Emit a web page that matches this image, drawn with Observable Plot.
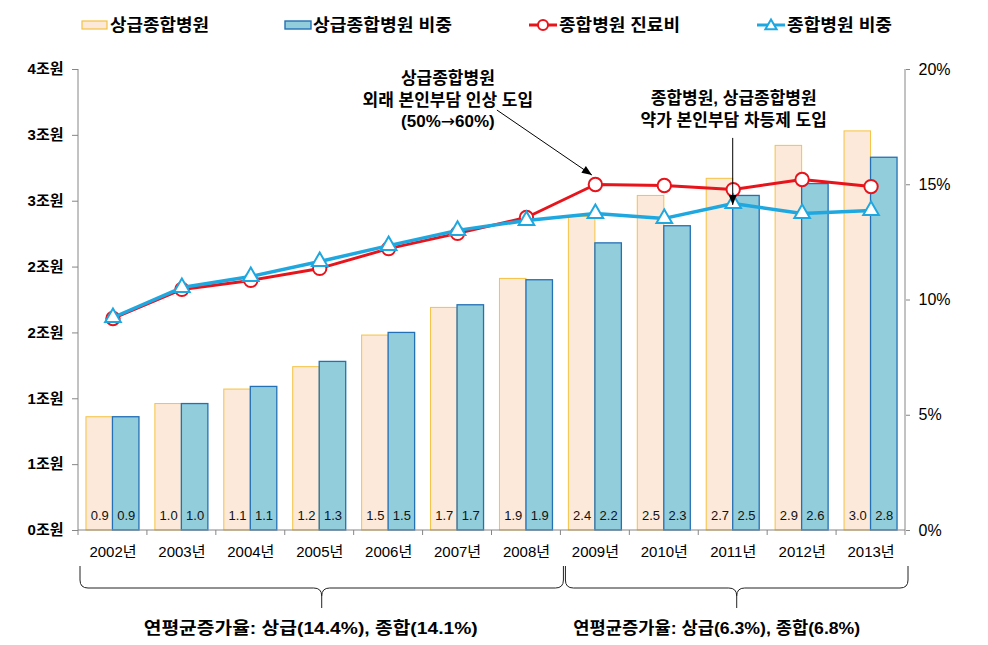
<!DOCTYPE html>
<html><head><meta charset="utf-8">
<script src="https://cdn.jsdelivr.net/npm/d3@7"></script>
<script src="https://cdn.jsdelivr.net/npm/@observablehq/plot@0.6"></script>
<style>
body{margin:0;background:#fff;}
#chart svg{display:block;}
</style></head><body>
<div id="chart"></div>
<script>
// ---------- data ----------
const years = ["2002년","2003년","2004년","2005년","2006년","2007년","2008년","2009년","2010년","2011년","2012년","2013년"];
const sangupCost  = [0.86,0.96,1.07,1.24,1.48,1.69,1.91,2.38,2.54,2.67,2.92,3.03];   // 조원 (orange bars)
const jonghapCost = [0.86,0.96,1.09,1.28,1.50,1.71,1.90,2.18,2.31,2.54,2.63,2.83];   // 조원 (blue bars)
const redShare    = [9.20,10.46,10.85,11.37,12.23,12.89,13.58,15.01,14.97,14.79,15.23,14.92]; // % (red line)
const cyanShare   = [9.24,10.54,11.02,11.67,12.36,13.02,13.45,13.75,13.54,14.19,13.75,13.88]; // % (cyan line)
const seriesNames = ["상급종합병원","상급종합병원 비중","종합병원 진료비","종합병원 비중"];
const leftTickValues  = [0,0.5,1,1.5,2,2.5,3,3.5];
const leftTickLabels  = ["0조원","1조원","1조원","2조원","2조원","3조원","3조원","4조원"];
const rightTickValues = [0,5,10,15,20];
const rightTickLabels = ["0%","5%","10%","15%","20%"];
const annotation1 = ["상급종합병원","외래 본인부담 인상 도입","(50%→60%)"];
const annotation2 = ["종합병원, 상급종합병원","약가 본인부담 차등제 도입"];
const growthLabels = ["연평균증가율: 상급(14.4%), 종합(14.1%)","연평균증가율: 상급(6.3%), 종합(6.8%)"];
const periodSplit = 7; // first period covers years[0..6]

// ---------- setup ----------
const FONT = '"Liberation Sans",Arial,"Noto Sans CJK KR",sans-serif';
const ARROWFONT = '"DejaVu Sans",sans-serif';
const RED = "#e8141c", CYAN = "#1fa8e0";
const OR_FILL = "#fde9d9", OR_STROKE = "#f5c242", BL_FILL = "#92cddc", BL_STROKE = "#2470b5";
const YMAX = leftTickValues[leftTickValues.length-1];
const K = YMAX / rightTickValues[rightTickValues.length-1]; // % -> left units
const W = 988, H = 600, mL = 78, mR = 83, mT = 24, mB = 115;
const bwEst = (W - mL - mR) / years.length;
const barW = 26.5;

const rows = years.map((y,i)=>({year:y, a:sangupCost[i], b:jonghapCost[i], red:redShare[i]*K, cyan:cyanShare[i]*K}));
const chart = document.getElementById("chart");

// ---------- legend ----------
const L = d3.select(chart).append("svg").attr("width", W).attr("height", 45)
  .style("font-family", FONT);
function legendText(x, txt, len){
  L.append("text").attr("x", x).attr("y", 25).attr("dy","0.36em")
   .attr("font-size", 17).attr("font-weight","bold").attr("fill","#000")
   .attr("textLength", len).attr("lengthAdjust","spacingAndGlyphs").text(txt);
}
L.append("rect").attr("x",82).attr("y",21).attr("width",25).attr("height",8).attr("fill",OR_FILL).attr("stroke",OR_STROKE).attr("stroke-width",1.2);
legendText(110, seriesNames[0], 99);
L.append("rect").attr("x",285).attr("y",21).attr("width",26).attr("height",8).attr("fill",BL_FILL).attr("stroke",BL_STROKE).attr("stroke-width",1.4);
legendText(313, seriesNames[1], 139);
L.append("line").attr("x1",529).attr("x2",557).attr("y1",25).attr("y2",25).attr("stroke",RED).attr("stroke-width",3);
L.append("circle").attr("cx",543).attr("cy",25).attr("r",5).attr("fill","#fff").attr("stroke",RED).attr("stroke-width",2);
legendText(559, seriesNames[2], 121);
L.append("line").attr("x1",757).attr("x2",785).attr("y1",25).attr("y2",25).attr("stroke",CYAN).attr("stroke-width",3);
L.append("path").attr("transform","translate(771,26)").attr("d", d3.symbol(d3.symbolTriangle, 55)()).attr("fill","#fff").attr("stroke",CYAN).attr("stroke-width",2);
legendText(787, seriesNames[3], 105);

// ---------- plot ----------
const plot = Plot.plot({
  width: W, height: H, marginLeft: mL, marginRight: mR, marginTop: mT, marginBottom: mB,
  style: {fontFamily: FONT, background: "white", overflow: "visible", color: "#000"},
  x: {domain: years, paddingInner: 0, paddingOuter: 0, round: false, axis: null},
  y: {domain: [0, YMAX], axis: null},
  marks: [
    Plot.barY(rows, {x:"year", y:"a", fill:OR_FILL, stroke:OR_STROKE, strokeWidth:1, insetLeft: bwEst/2 - barW, insetRight: bwEst/2}),
    Plot.barY(rows, {x:"year", y:"b", fill:BL_FILL, stroke:BL_STROKE, strokeWidth:1.3, insetLeft: bwEst/2, insetRight: bwEst/2 - barW}),
    Plot.text(rows, {x:"year", y:0, text: d=>d.a.toFixed(1), dx:-barW/2, dy:-15, fontSize:13, fill:"#111"}),
    Plot.text(rows, {x:"year", y:0, text: d=>d.b.toFixed(1), dx: barW/2, dy:-15, fontSize:13, fill:"#111"}),
    Plot.axisY({anchor:"left", ticks:leftTickValues, tickFormat: d=>leftTickLabels[leftTickValues.indexOf(d)],
      tickSize:6, tickPadding:9, fontSize:15, fontWeight:"bold", label:null, stroke:"#868686", fill:"#000"}),
    Plot.axisY({anchor:"right", ticks:rightTickValues.map(v=>v*K), tickFormat: d=>rightTickLabels[Math.round(d/K/5)],
      tickSize:4, tickPadding:9, fontSize:16, label:null, stroke:"#868686", fill:"#000"}),
    Plot.axisX({tickSize:0, tickPadding:16, fontSize:15, label:null, fill:"#000"}),
    Plot.line(rows, {x:"year", y:"red", stroke:RED, strokeWidth:3}),
    Plot.dot(rows, {x:"year", y:"red", r:6.7, fill:"white", stroke:RED, strokeWidth:2}),
    Plot.line(rows, {x:"year", y:"cyan", stroke:CYAN, strokeWidth:3.5}),
    Plot.dot(rows, {x:"year", y:"cyan", symbol:"triangle", r:5.8, fill:"white", stroke:CYAN, strokeWidth:2})
  ]
});
chart.appendChild(plot);

// ---------- decorations from the plot's scales ----------
const sx = plot.scale("x"), sy = plot.scale("y");
const X = v => sx.apply(v);
const bw = X(years[1]) - X(years[0]);
const CX = v => X(v) + bw/2;
const Y = v => sy.apply(v);
const svg = d3.select(plot);
const g = svg.append("g").attr("fill","none");
const x0 = X(years[0]), xN = X(years[years.length-1]) + bw, y0 = Y(0), yT = Y(YMAX);
const AX = "#868686";
g.append("line").attr("x1",x0).attr("x2",x0).attr("y1",yT).attr("y2",y0).attr("stroke",AX);
g.append("line").attr("x1",xN).attr("x2",xN).attr("y1",yT).attr("y2",y0).attr("stroke",AX);
g.append("line").attr("x1",x0).attr("x2",xN).attr("y1",y0).attr("y2",y0).attr("stroke",AX);
years.concat([null]).forEach((yv,i)=>{
  const xx = yv ? X(yv) : xN;
  g.append("line").attr("x1",xx).attr("x2",xx).attr("y1",y0).attr("y2",y0+5).attr("stroke",AX);
});

// braces
const bTop = y0 + 36, bMid = y0 + 58, bTip = y0 + 78, rr = 8;
function brace(xa, xb){
  const xc = (xa+xb)/2;
  const d = `M${xa},${bTop} V${bMid-rr} Q${xa},${bMid} ${xa+rr},${bMid} H${xc-rr} Q${xc},${bMid} ${xc},${bMid+rr} V${bTip}`
          + ` M${xc},${bMid+rr} Q${xc},${bMid} ${xc+rr},${bMid} H${xb-rr} Q${xb},${bMid} ${xb},${bMid-rr} V${bTop}`;
  g.append("path").attr("d", d).attr("stroke","#222").attr("stroke-width",1);
  return xc;
}
const xSplit = X(years[periodSplit]) + 4;
const c1 = brace(x0+2, xSplit-1);
const c2 = brace(xSplit+1, xN+3);
function boldText(x, y, txt, len, size){
  svg.append("text").attr("x",x).attr("y",y).attr("dy","0.36em").attr("text-anchor","middle")
    .attr("font-size",size).attr("font-weight","bold").attr("fill","#000")
    .attr("textLength",len).attr("lengthAdjust","spacingAndGlyphs").text(txt);
}
boldText(c1-11, y0+98, growthLabels[0], 334, 17);
boldText(c2-20, y0+98, growthLabels[1], 287, 17);

// annotations anchored to data points (one text block each, lines as tspans)
function block(x, y, lines, lh){
  const t = svg.append("text").attr("text-anchor","middle").attr("font-size",17)
    .attr("font-weight","bold").attr("fill","#000");
  lines.forEach((s,k)=> {
    const line = t.append("tspan").attr("x",x).attr("y",y + k*lh).attr("dy","0.36em");
    s.split(/(→)/).forEach(part => {
      if (!part) return;
      const sp = line.append("tspan").text(part);
      if (part === "→") sp.style("font-family", ARROWFONT).style("font-weight","normal");
    });
  });
}
function arrow(xa, ya, xb, yb){
  g.append("line").attr("x1",xa).attr("y1",ya).attr("x2",xb).attr("y2",yb).attr("stroke","#000").attr("stroke-width",1);
  const ang = Math.atan2(yb-ya, xb-xa), hl = 10, hw = 4;
  const bx = xb - hl*Math.cos(ang), by = yb - hl*Math.sin(ang);
  const px = -Math.sin(ang)*hw, py = Math.cos(ang)*hw;
  g.append("path").attr("d",`M${xb},${yb} L${bx+px},${by+py} L${bx-px},${by-py} Z`).attr("fill","#000");
}
const i1 = 7, ax1 = CX(years[i1]), ay1 = Y(rows[i1].red);
block(ax1-147, ay1-106, annotation1, 21.5);
arrow(ax1-98, ay1-74, ax1-3, ay1-9);
const i2 = 9, ax2 = CX(years[i2]), ay2 = Y(rows[i2].cyan);
block(ax2+1, ay2-105, annotation2, 22);
arrow(ax2, ay2-65, ax2, ay2+2);
</script>
</body></html>
